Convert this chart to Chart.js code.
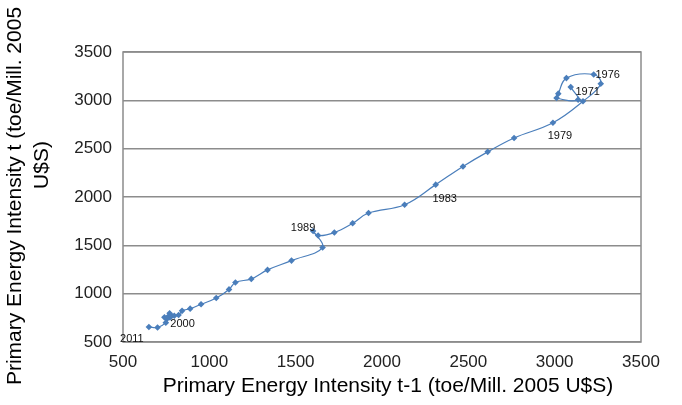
<!DOCTYPE html>
<html>
<head>
<meta charset="utf-8">
<script src="https://cdn.jsdelivr.net/npm/chart.js@4.4.1/dist/chart.umd.min.js"></script>
<style>
  html, body { margin: 0; padding: 0; background: #fff; }
  #wrap { width: 682px; height: 405px; position: relative; }
</style>
</head>
<body>
<div id="wrap"><canvas id="grafico"></canvas></div>
<script>
// Intensidade energética primária: ano t contra ano t-1 (toe/Mill. 2005 U$S)
const anos = [1971, 1972, 1973, 1974, 1975, 1976, 1977, 1978, 1979, 1980,
  1981, 1982, 1983, 1984, 1985, 1986, 1987, 1988, 1989, 1990,
  1991, 1992, 1993, 1994, 1995, 1996, 1997, 1998, 1999, 2000,
  2001, 2002, 2003, 2004, 2005, 2006, 2007, 2008, 2009, 2010, 2011];

const intensidadeAnterior = [3093, 3136, 3011, 3021, 3068, 3226, 3267, 3164, 2990, 2765,
  2612, 2469, 2311, 2131, 1922, 1830, 1724, 1630, 1601, 1656,
  1476, 1337, 1243, 1151, 1114, 1040, 952, 889, 842, 822,
  780, 766, 770, 797, 772, 755, 740, 755, 748, 700, 650];

const intensidadeAtual = [3137, 3007, 3024, 3069, 3230, 3267, 3172, 2990, 2768, 2611,
  2467, 2316, 2128, 1920, 1834, 1728, 1632, 1601, 1649, 1478,
  1342, 1246, 1153, 1116, 1044, 955, 890, 845, 822, 780,
  766, 770, 797, 772, 755, 740, 755, 748, 700, 650, 655];

const ticksEixo = [500, 1000, 1500, 2000, 2500, 3000, 3500];

// anos rotulados no gráfico e deslocamento do texto em px
const anosRotulados = [1971, 1976, 1979, 1983, 1989, 2000, 2011];
const deslocRotulo = {
  1971: [17, 5], 1976: [14, 0], 1979: [7, 13], 1983: [9, 14],
  1989: [-10, -3], 2000: [4, 9], 2011: [-17, 12],
};

const COR = '#4a7ebb';
const FONTE = '"Liberation Sans", Arial, Helvetica, sans-serif';

const pontos = anos.map((a, i) => ({ x: intensidadeAnterior[i], y: intensidadeAtual[i] }));

const moldura = {
  id: 'moldura',
  afterDatasetsDraw(chart) {
    const { ctx, chartArea: a } = chart;
    ctx.save();
    ctx.strokeStyle = '#8c8c8c';
    ctx.lineWidth = 1.5;
    ctx.strokeRect(a.left, a.top, a.right - a.left, a.bottom - a.top);

    // rótulos dos anos
    const xs = chart.scales.x, ys = chart.scales.y;
    ctx.fillStyle = '#111';
    ctx.font = '11px ' + FONTE;
    ctx.textAlign = 'center';
    ctx.textBaseline = 'middle';
    anosRotulados.forEach((ano) => {
      const i = anos.indexOf(ano);
      const [dx, dy] = deslocRotulo[ano];
      ctx.fillText(String(ano), xs.getPixelForValue(intensidadeAnterior[i]) + dx, ys.getPixelForValue(intensidadeAtual[i]) + dy);
    });

    // títulos dos eixos
    ctx.font = '21px ' + FONTE;
    ctx.fillStyle = '#000';
    ctx.fillText('Primary Energy Intensity t-1 (toe/Mill. 2005 U$S)', 388, 386);
    ctx.translate(15, 196);
    ctx.rotate(-Math.PI / 2);
    ctx.fillText('Primary Energy Intensity t (toe/Mill. 2005', 0, 0);
    ctx.fillText('U$S)', 31, 27);
    ctx.restore();
  },
};

new Chart(document.getElementById('grafico'), {
  type: 'scatter',
  data: {
    datasets: [{
      data: pontos,
      showLine: true,
      borderColor: COR,
      backgroundColor: COR,
      borderWidth: 1.2,
      tension: 0.4,
      pointStyle: 'rectRot',
      pointRadius: 3.3,
      pointBorderWidth: 0,
    }],
  },
  options: {
    responsive: true, maintainAspectRatio: false, animation: false,
    layout: { padding: { left: 0, top: 52, right: 41, bottom: 0 } },
    plugins: { legend: { display: false }, tooltip: { enabled: false } },
    scales: {
      x: {
        min: 500, max: 3500,
        afterBuildTicks: (s) => { s.ticks = ticksEixo.map((v) => ({ value: v })); },
        afterFit: (s) => { s.height = 63; },
        grid: { display: false, drawTicks: false },
        border: { display: false },
        ticks: { color: '#222', padding: 10, font: { size: 17, family: FONTE }, callback: (v) => String(v) },
      },
      y: {
        min: 500, max: 3500,
        afterBuildTicks: (s) => { s.ticks = ticksEixo.map((v) => ({ value: v })); },
        afterFit: (s) => { s.width = 123; },
        grid: { color: '#8c8c8c', lineWidth: 1.5, drawTicks: false },
        border: { display: false },
        ticks: { color: '#222', padding: 11, font: { size: 17, family: FONTE }, callback: (v) => String(v) },
      },
    },
  },
  plugins: [moldura],
});
</script>
</body>
</html>
